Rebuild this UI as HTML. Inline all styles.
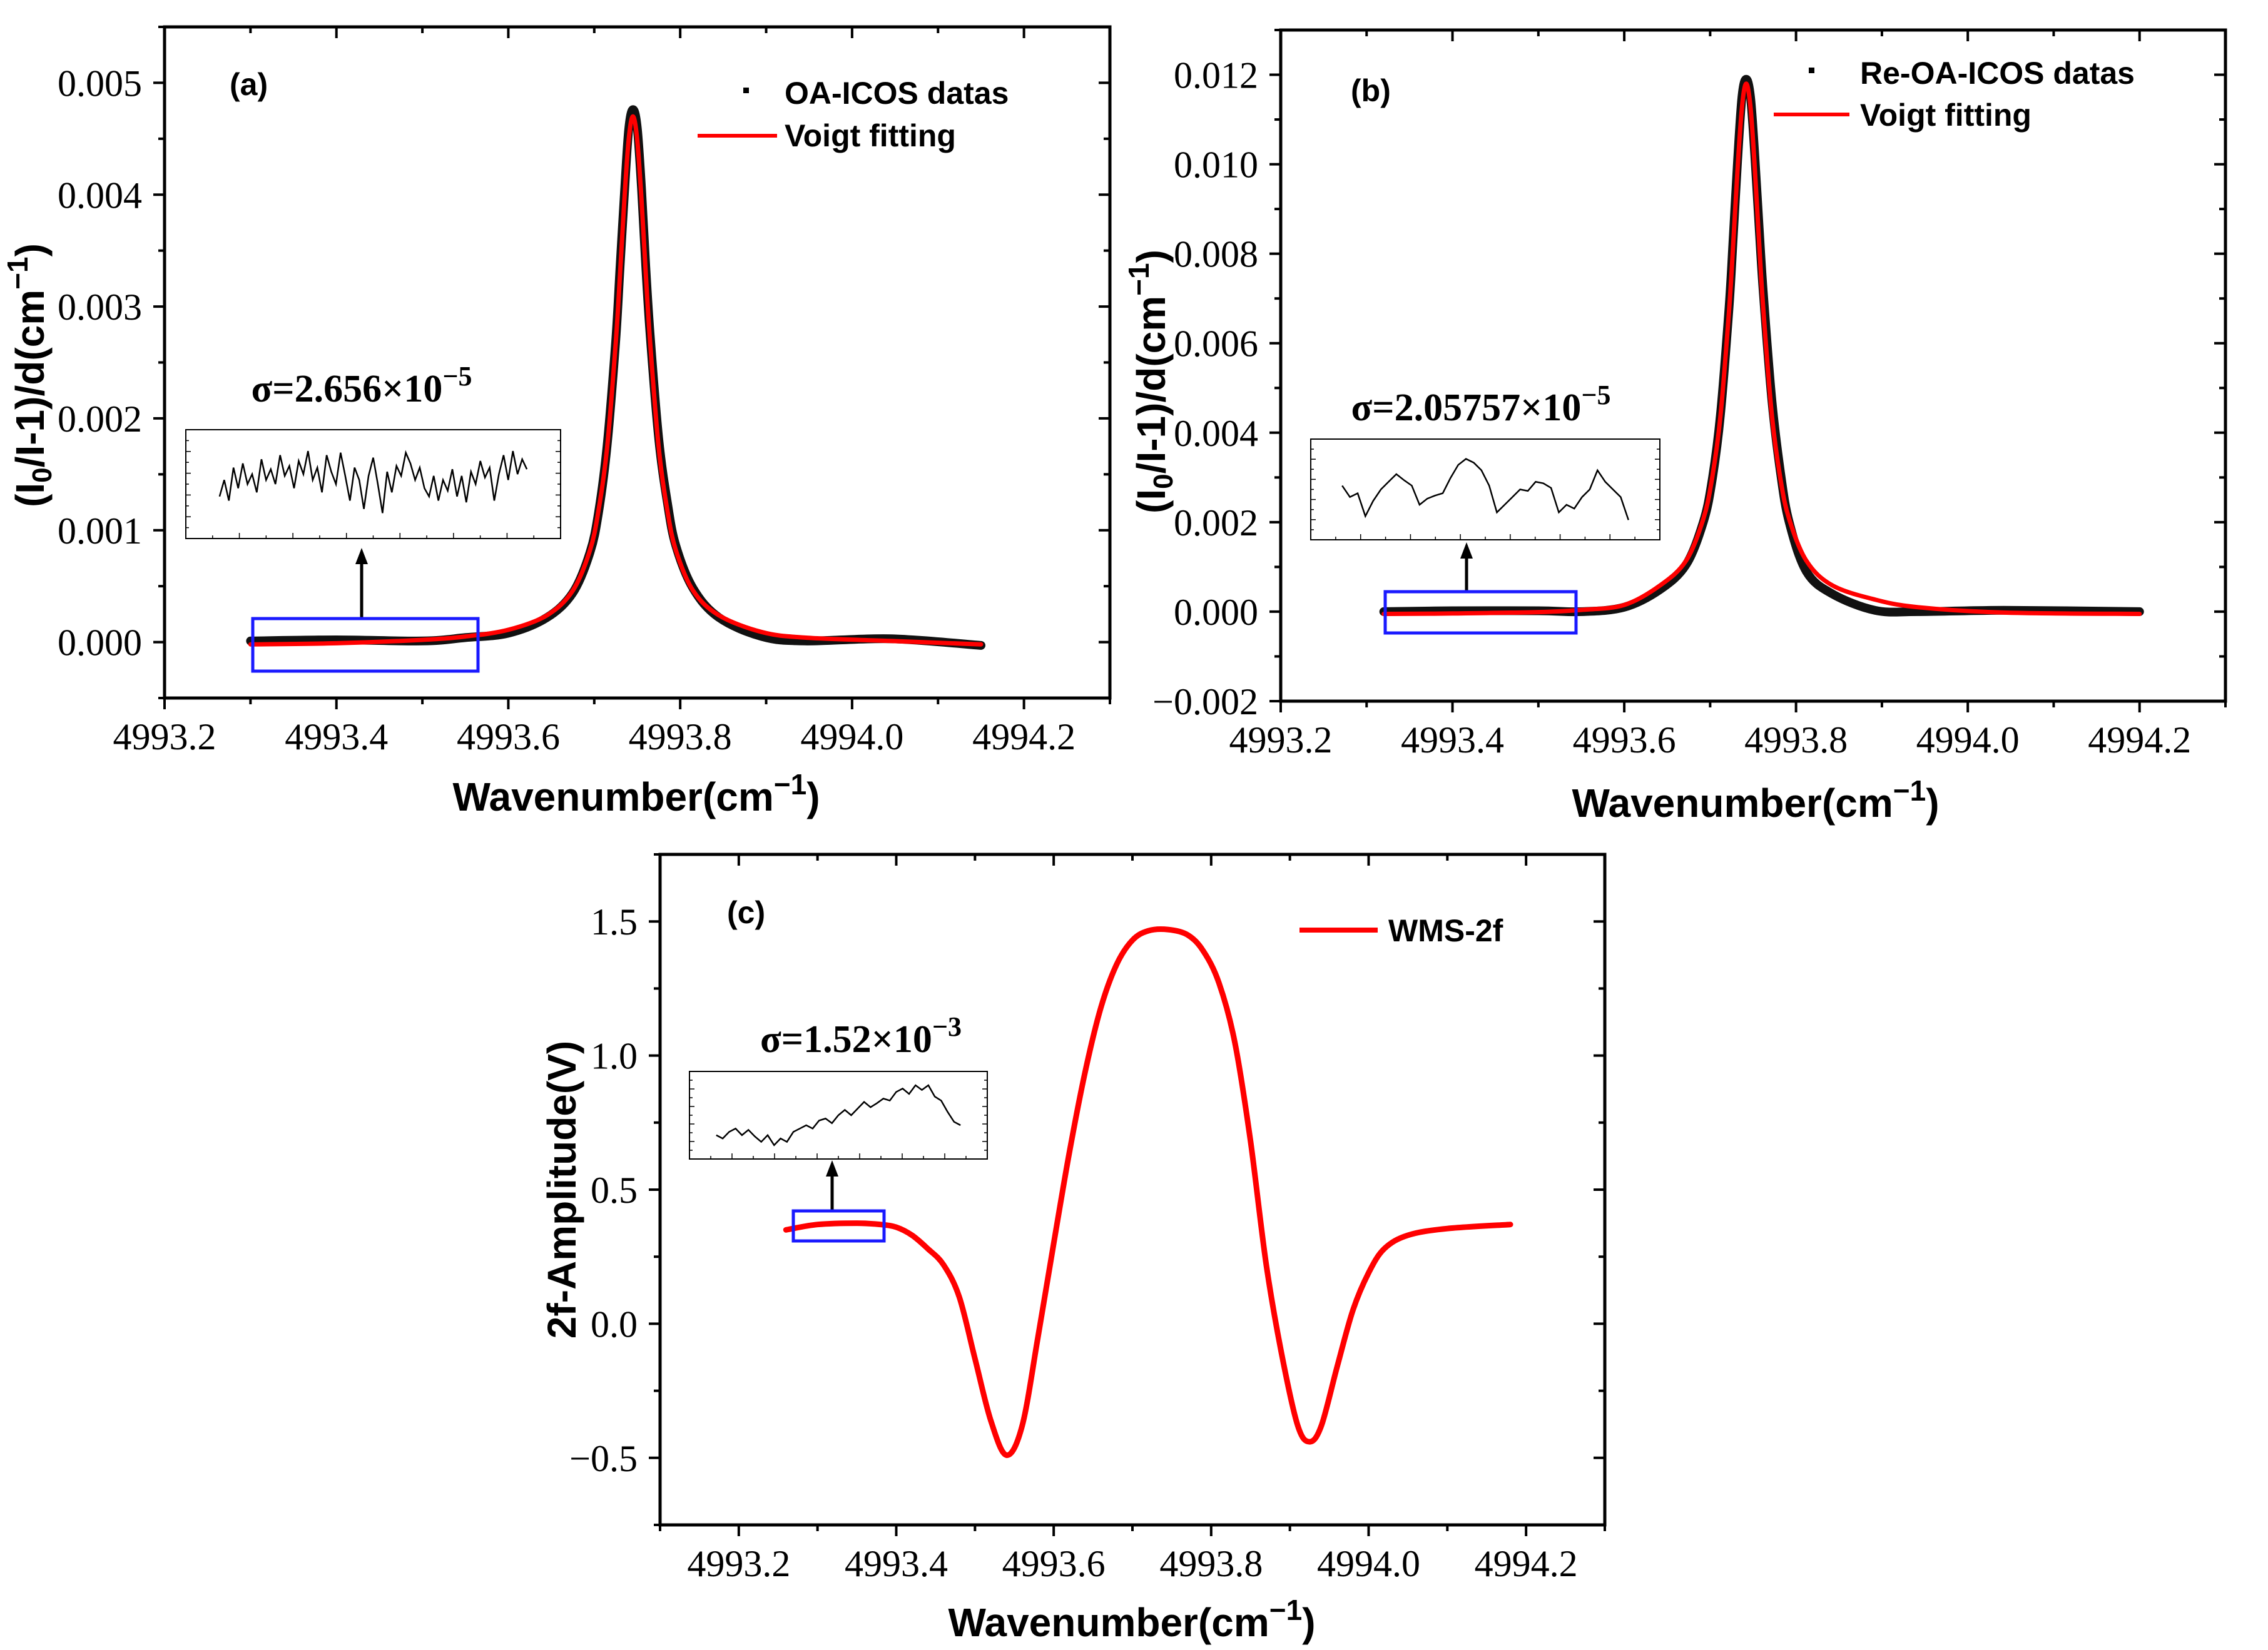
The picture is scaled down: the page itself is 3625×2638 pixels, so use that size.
<!DOCTYPE html>
<html><head><meta charset="utf-8"><style>
html,body{margin:0;padding:0;background:#fff;}
svg{display:block;}
.tick{font-family:"Liberation Serif",serif;font-size:60px;fill:#000;}
.ttl{font-family:"Liberation Sans",sans-serif;font-weight:bold;font-size:64px;fill:#000;}
.leg{font-family:"Liberation Sans",sans-serif;font-weight:bold;font-size:50px;fill:#000;}
.sig{font-family:"Liberation Serif",serif;font-weight:bold;font-size:62px;fill:#000;}
</style></head><body>
<svg id="fig" width="3625" height="2638" viewBox="0 0 3625 2638" xmlns="http://www.w3.org/2000/svg"></svg>
<script>
// ---------- Panel (a) data ----------
const aFitX = [4993.30,4993.40,4993.50,4993.55,4993.60,4993.645,4993.675,4993.695,4993.705,4993.715,4993.725,4993.73,4993.735,4993.74,4993.745,4993.75,4993.755,4993.76,4993.765,4993.775,4993.785,4993.795,4993.815,4993.845,4993.895,4993.945,4994.045,4994.15];
const aFitY = [-0.00002,-0.00001,0.00002,0.00005,0.00011,0.00024,0.00046,0.00082,0.00118,0.00174,0.00268,0.00329,0.00395,0.00449,0.0047,0.00449,0.00395,0.00329,0.00268,0.00174,0.00118,0.00082,0.00046,0.00024,0.00009,0.00004,0.00001,-0.00002];
const aDatY = [0.00001,0.00002,0.00001,0.00004,0.00008,0.00022,0.00044,0.0008,0.00116,0.00176,0.0027,0.00335,0.004,0.00458,0.00476,0.0046,0.00405,0.00335,0.00275,0.00182,0.00125,0.00086,0.00048,0.00022,0.00005,0.00001,0.00003,-0.00003];
const aInset = [0.35,0.55,0.3,0.7,0.45,0.75,0.5,0.62,0.4,0.8,0.55,0.68,0.5,0.85,0.6,0.72,0.45,0.78,0.62,0.9,0.55,0.7,0.4,0.85,0.65,0.5,0.88,0.6,0.3,0.7,0.55,0.2,0.6,0.82,0.5,0.15,0.65,0.4,0.72,0.6,0.88,0.75,0.55,0.7,0.45,0.35,0.6,0.3,0.55,0.42,0.68,0.35,0.6,0.28,0.65,0.5,0.78,0.58,0.7,0.3,0.62,0.85,0.55,0.9,0.62,0.8,0.68];
// ---------- Panel (b) data ----------
const bFitX = [4993.32,4993.40,4993.50,4993.55,4993.60,4993.642,4993.672,4993.692,4993.702,4993.712,4993.722,4993.727,4993.732,4993.737,4993.742,4993.747,4993.752,4993.757,4993.762,4993.772,4993.782,4993.792,4993.812,4993.842,4993.892,4993.942,4994.042,4994.20];
const bFitY = [-0.00005,-0.00004,-0.00001,0.00004,0.00015,0.00059,0.00114,0.00207,0.00295,0.00437,0.00673,0.00826,0.00992,0.01127,0.0118,0.01127,0.00992,0.00826,0.00673,0.00437,0.00295,0.00207,0.00114,0.00059,0.00027,0.00010,-0.00002,-0.00005];
const bDatY = [0.0,0.00002,0.00002,0.0,0.0001,0.0005,0.00105,0.002,0.0029,0.0044,0.0068,0.0084,0.0101,0.0115,0.0119,0.0115,0.0102,0.0086,0.0071,0.0047,0.0031,0.002,0.0009,0.0004,0.00003,0.0,0.00003,0.0];
const bInset = [0.55,0.4,0.45,0.15,0.35,0.5,0.6,0.7,0.62,0.55,0.3,0.38,0.42,0.45,0.65,0.82,0.9,0.85,0.75,0.55,0.2,0.3,0.4,0.5,0.48,0.6,0.58,0.52,0.2,0.3,0.25,0.4,0.5,0.75,0.6,0.5,0.4,0.1];
// ---------- Panel (c) data ----------
const cX = [4993.26,4993.30,4993.35,4993.38,4993.40,4993.42,4993.44,4993.46,4993.48,4993.50,4993.52,4993.54,4993.56,4993.58,4993.60,4993.62,4993.64,4993.66,4993.68,4993.70,4993.72,4993.745,4993.77,4993.79,4993.81,4993.83,4993.85,4993.87,4993.89,4993.91,4993.925,4993.94,4993.96,4993.98,4994.00,4994.02,4994.05,4994.10,4994.18];
const cY = [0.35,0.37,0.375,0.37,0.36,0.33,0.28,0.22,0.10,-0.13,-0.36,-0.49,-0.38,-0.05,0.30,0.64,0.94,1.18,1.34,1.43,1.465,1.47,1.45,1.39,1.27,1.05,0.68,0.22,-0.12,-0.38,-0.44,-0.38,-0.16,0.05,0.19,0.28,0.33,0.355,0.37];
const cInset = [0.2,0.15,0.25,0.3,0.2,0.28,0.18,0.1,0.2,0.05,0.15,0.1,0.25,0.3,0.35,0.3,0.42,0.45,0.38,0.5,0.58,0.5,0.6,0.7,0.62,0.68,0.75,0.72,0.85,0.9,0.82,0.95,0.88,0.95,0.78,0.72,0.55,0.4,0.35];
const aTicks = [0.000,0.001,0.002,0.003,0.004,0.005];
const bTicks = [-0.002,0.000,0.002,0.004,0.006,0.008,0.010,0.012];
const cTicks = [-0.5,0.0,0.5,1.0,1.5];
const xTicksAB = [4993.2,4993.4,4993.6,4993.8,4994.0,4994.2];
const xTicksC = [4993.2,4993.4,4993.6,4993.8,4994.0,4994.2];

const NS='http://www.w3.org/2000/svg';
const svg=document.getElementById('fig');
function mk(tag,attrs,parent){const e=document.createElementNS(NS,tag);for(const k in attrs)e.setAttribute(k,attrs[k]);(parent||svg).appendChild(e);return e;}

function panel(p){
  const g=mk('g',{});
  
  
  const sx=v=>p.L+(v-p.x0)/(p.x1-p.x0)*(p.R-p.L);
  const sy=v=>p.B-(v-p.y0)/(p.y1-p.y0)*(p.B-p.T);
  const fr=mk('rect',{x:p.L,y:p.T,width:p.R-p.L,height:p.B-p.T,fill:'none',stroke:'#000','stroke-width':5},g);
  
  
  for(let v=p.x0;v<=p.x1+1e-9;v+=0.1){
    const x=sx(v);const maj=Math.abs(Math.round(v*10)%2)===0;
    mk('line',{x1:x,x2:x,y1:p.B,y2:p.B+(maj?18:10),stroke:'#000','stroke-width':4},g);
    mk('line',{x1:x,x2:x,y1:p.T,y2:p.T+(maj?18:10),stroke:'#000','stroke-width':4},g);
  }
  p.xt.forEach(v=>{const t=mk('text',{x:sx(v),y:p.B+82,'text-anchor':'middle',class:'tick'},g);t.textContent=v.toFixed(1);
    });
  const st=(p.yt[1]-p.yt[0])/2;
  for(let v=p.yt[0]-st;v<=p.y1+1e-12;v+=st){
    if(v<p.y0-1e-12)continue;
    const y=sy(v);const maj=p.yt.some(t=>Math.abs(t-v)<st/10);
    mk('line',{x1:p.L-(maj?18:10),x2:p.L,y1:y,y2:y,stroke:'#000','stroke-width':4},g);
    mk('line',{x1:p.R-(maj?18:10),x2:p.R,y1:y,y2:y,stroke:'#000','stroke-width':4},g);
  }
  p.yt.forEach(v=>{const t=mk('text',{x:p.L-36,y:sy(v)+21,'text-anchor':'end',class:'tick'},g);
    t.textContent=(v<0?'\u2212':'')+Math.abs(v).toFixed(p.dec);
    });
  const xt=mk('text',{x:p.xtx,y:p.xty,'text-anchor':'middle',class:'ttl'},g);
  xt.innerHTML='Wavenumber(cm<tspan dy="-26" font-size="46">\u22121</tspan><tspan dy="26">)</tspan>';
  
  const yt=mk('text',{x:0,y:0,'text-anchor':'middle',class:'ttl',transform:`translate(${p.ytx},${p.yty}) rotate(-90)`},g);
  yt.innerHTML=p.ytitle;
  
  const lb=mk('text',{x:p.lab[0],y:p.lab[1],class:'leg','font-size':50},g);lb.textContent=p.label;
  
  return {g,sx,sy};
}
function smoothPath(pts){
  let d='M'+pts[0][0].toFixed(1)+','+pts[0][1].toFixed(1);
  for(let i=0;i<pts.length-1;i++){
    const p0=pts[Math.max(0,i-1)],p1=pts[i],p2=pts[i+1],p3=pts[Math.min(pts.length-1,i+2)];
    const c1=[p1[0]+(p2[0]-p0[0])/6,p1[1]+(p2[1]-p0[1])/6];
    const c2=[p2[0]-(p3[0]-p1[0])/6,p2[1]-(p3[1]-p1[1])/6];
    d+=` C${c1[0].toFixed(1)},${c1[1].toFixed(1)} ${c2[0].toFixed(1)},${c2[1].toFixed(1)} ${p2[0].toFixed(1)},${p2[1].toFixed(1)}`;
  }
  return d;
}
function poly(g,xs,ys,sx,sy,attrs){
  const d=smoothPath(xs.map((x,i)=>[sx(x),sy(ys[i])]));
  return mk('path',Object.assign({d,fill:'none','stroke-linejoin':'round','stroke-linecap':'round'},attrs),g);
}
function inset(g,box,vals,sig,sup,arrow,blue){
  const r=mk('rect',{x:box[0],y:box[1],width:box[2]-box[0],height:box[3]-box[1],fill:'#fff',stroke:'#000','stroke-width':2},g);
  
  for(let i=1;i<14;i++){const x=box[0]+(box[2]-box[0])*i/14;mk('line',{x1:x,x2:x,y1:box[3],y2:box[3]-(i%2?5:9),stroke:'#000','stroke-width':1.5},g);}
  for(let i=1;i<10;i++){const y=box[1]+(box[3]-box[1])*i/10;mk('line',{x1:box[0],x2:box[0]+(i%2?5:8),y1:y,y2:y,stroke:'#000','stroke-width':1.5},g);
    mk('line',{x1:box[2],x2:box[2]-(i%2?5:8),y1:y,y2:y,stroke:'#000','stroke-width':1.5},g);}
  const w=box[2]-box[0],h=box[3]-box[1];
  const ix=i=>box[0]+w*0.09+w*0.82*i/(vals.length-1);
  const iy=v=>box[3]-h*0.12-h*0.76*v;
  const d=vals.map((v,i)=>(i?'L':'M')+ix(i).toFixed(1)+','+iy(v).toFixed(1)).join(' ');
  const pl=mk('path',{d,fill:'none',stroke:'#000','stroke-width':2.5},g);
  
  const t=mk('text',{x:sig[0],y:sig[1],'text-anchor':'middle',class:'sig'},g);
  t.innerHTML=sig[2]+'<tspan dy="-26" font-size="44">\u2212'+sup+'</tspan>';
  
  const ar=mk('line',{x1:arrow[0],x2:arrow[0],y1:arrow[1],y2:arrow[2]+22,stroke:'#000','stroke-width':5},g);
  
  mk('polygon',{points:`${arrow[0]-10},${arrow[2]+26} ${arrow[0]+10},${arrow[2]+26} ${arrow[0]},${arrow[2]}`,fill:'#000'},g);
  const b=mk('rect',{x:blue[0],y:blue[1],width:blue[2]-blue[0],height:blue[3]-blue[1],fill:'none',stroke:'#1a1aff','stroke-width':5},g);
  
}
const YT='(I<tspan dy="12" font-size="44">0</tspan><tspan dy="-12">/I-1)/d(cm</tspan><tspan dy="-26" font-size="46">\u22121</tspan><tspan dy="26">)</tspan>';

// Panel a
let P=panel({name:'panel-a',L:263,R:1774,T:43,B:1116,x0:4993.2,x1:4994.3,y0:-0.0005,y1:0.0055,xt:xTicksAB,yt:aTicks,dec:3,
  xtx:1017,xty:1296,ytx:70,yty:600,ytitle:YT,label:'(a)',lab:[367,152]});
let d=poly(P.g,aFitX,aDatY,P.sx,P.sy,{stroke:'#111','stroke-width':14});

d=poly(P.g,aFitX,aFitY,P.sx,P.sy,{stroke:'#ff0000','stroke-width':7});

mk('rect',{x:1188,y:140,width:9,height:9,fill:'#000'},P.g);
let t=mk('text',{x:1254,y:166,class:'leg'},P.g);t.textContent='OA-ICOS datas';

mk('line',{x1:1115,x2:1242,y1:217,y2:217,stroke:'#ff0000','stroke-width':6},P.g);
t=mk('text',{x:1254,y:234,class:'leg'},P.g);t.textContent='Voigt  fitting';

inset(P.g,[297,687,896,861],aInset,[578,642,'\u03c3=2.656\u00d710'],'5',[578,991,876],[404,989,764,1073]);

// Panel b
P=panel({name:'panel-b',L:2047,R:3557,T:48,B:1121,x0:4993.2,x1:4994.3,y0:-0.002,y1:0.013,xt:xTicksAB,yt:bTicks,dec:3,
  xtx:2806,xty:1306,ytx:1862,yty:610,ytitle:YT,label:'(b)',lab:[2159,162]});
d=poly(P.g,bFitX,bDatY,P.sx,P.sy,{stroke:'#111','stroke-width':14});

d=poly(P.g,bFitX,bFitY,P.sx,P.sy,{stroke:'#ff0000','stroke-width':7});

mk('rect',{x:2891,y:108,width:9,height:9,fill:'#000'},P.g);
t=mk('text',{x:2973,y:134,class:'leg'},P.g);t.textContent='Re-OA-ICOS datas';

mk('line',{x1:2835,x2:2956,y1:183,y2:183,stroke:'#ff0000','stroke-width':6},P.g);
t=mk('text',{x:2973,y:201,class:'leg'},P.g);t.textContent='Voigt fitting';

inset(P.g,[2095,702,2653,863],bInset,[2367,672,'\u03c3=2.05757\u00d710'],'5',[2344,948,867],[2214,946,2519,1012]);

// Panel c
P=panel({name:'panel-c',L:1055,R:2565,T:1366,B:2438,x0:4993.1,x1:4994.3,y0:-0.75,y1:1.75,xt:xTicksC,yt:cTicks,dec:1,
  xtx:1809,xty:2616,ytx:920,yty:1902,ytitle:'2f-Amplitude(V)',label:'(c)',lab:[1162,1476]});
d=poly(P.g,cX,cY,P.sx,P.sy,{stroke:'#ff0000','stroke-width':9});

mk('line',{x1:2077,x2:2202,y1:1487,y2:1487,stroke:'#ff0000','stroke-width':8},P.g);
t=mk('text',{x:2219,y:1505,class:'leg'},P.g);t.textContent='WMS-2f';

inset(P.g,[1102,1713,1578,1853],cInset,[1376,1682,'\u03c3=1.52\u00d710'],'3',[1330,1935,1855],[1268,1936,1413,1984]);
</script>
</body></html>
